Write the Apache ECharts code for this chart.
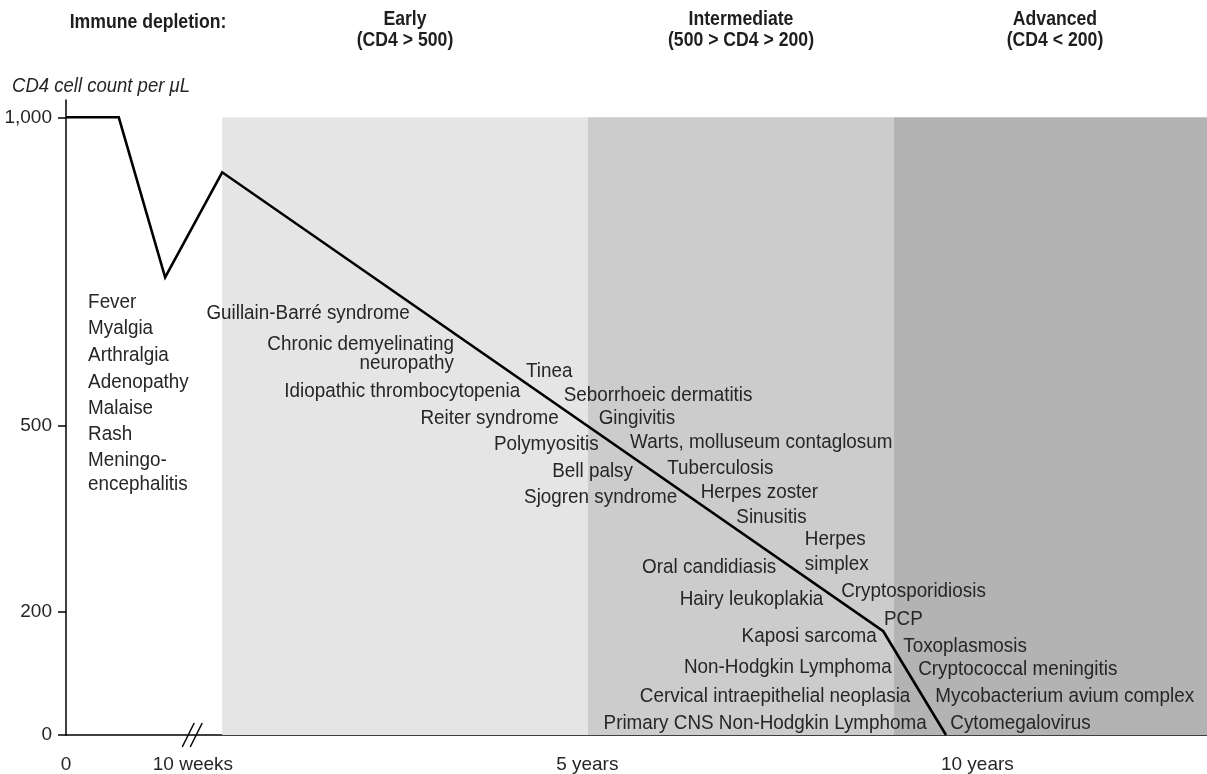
<!DOCTYPE html>
<html>
<head>
<meta charset="utf-8">
<script src="https://cdn.jsdelivr.net/npm/echarts@6/dist/echarts.min.js"></script>
<style>
html,body{margin:0;padding:0;background:#fff;}
#chart{width:1207px;height:774px;}
</style>
</head>
<body>
<div id="chart"></div>
<script>
// ---- data (x in chart units: 0 = start, break near 1.78, years afterwards) ----
const cd4X = [0, 0.74, 1.39, 2.19, 11.46, 12.34];
const cd4Y = [1000, 1000, 741, 911, 168, 0];

const stageNames = ['Early', 'Intermediate', 'Advanced'];
const stageStart = [2.19, 7.32, 11.61];
const stageEnd = [7.32, 11.61, 16];
const stageTop = 1000;

const xTickValues = [0, 1.78, 7.31, 12.78];
const xTickLabels = ['0', '10 weeks', '5 years', '10 years'];
const yTickValues = [0, 200, 500, 1000];
const yTickLabels = ['0', '200', '500', '1,000'];

const breakAt = 1.77;

// conditions left of the curve (text ends at point)
const leftNames = ['Guillain-Barré syndrome', 'Chronic demyelinating', 'neuropathy', 'Idiopathic thrombocytopenia',
  'Reiter syndrome', 'Polymyositis', 'Bell palsy', 'Sjogren syndrome', 'Oral candidiasis', 'Hairy leukoplakia',
  'Kaposi sarcoma', 'Non-Hodgkin Lymphoma', 'Cervical intraepithelial neoplasia', 'Primary CNS Non-Hodgkin Lymphoma'];
const leftX = [4.82, 5.44, 5.44, 6.37, 6.91, 7.47, 7.95, 8.57, 9.96, 10.62, 11.37, 11.58, 11.84, 12.07];
const leftY = [683, 633, 601, 557, 513, 471, 427, 384, 272, 219, 159, 110, 63, 19];

// conditions right of the curve (text starts at point)
const rightNames = ['Tinea', 'Seborrhoeic dermatitis', 'Gingivitis', 'Warts, molluseum contaglosum', 'Tuberculosis',
  'Herpes zoster', 'Sinusitis', 'Herpes', 'simplex', 'Cryptosporidiosis', 'PCP', 'Toxoplasmosis',
  'Cryptococcal meningitis', 'Mycobacterium avium complex', 'Cytomegalovirus'];
const rightX = [6.45, 6.98, 7.47, 7.91, 8.43, 8.90, 9.40, 10.36, 10.36, 10.87, 11.47, 11.74, 11.95, 12.19, 12.40];
const rightY = [588, 550, 512, 473, 431, 393, 353, 316, 277, 233, 188, 144, 107, 62, 19];

// acute infection symptoms
const acuteNames = ['Fever', 'Myalgia', 'Arthralgia', 'Adenopathy', 'Malaise', 'Rash', 'Meningo-', 'encephalitis'];
const acuteX = [0.31, 0.31, 0.31, 0.31, 0.31, 0.31, 0.31, 0.31];
const acuteY = [701, 659, 615, 571, 529, 487, 444, 405];

const headerTitle = 'Immune depletion:';
const headerStages = ['Early\n(CD4 > 500)', 'Intermediate\n(500 > CD4 > 200)', 'Advanced\n(CD4 < 200)'];
const yName = 'CD4 cell count per \u03bcL';

// ---- chart ----
const FONT = '"Liberation Sans", Arial, sans-serif';
const TXT = '#262626';
const bandColors = ['#e5e5e5', '#cccccc', '#b3b3b3'];

const chart = echarts.init(document.getElementById('chart'), null, {renderer: 'canvas'});

function lookup(vals, labels, v) {
  let best = 0;
  vals.forEach((t, i) => { if (Math.abs(t - v) < Math.abs(vals[best] - v)) best = i; });
  return labels[best];
}

// annotation table built from the arrays above
const notes = [];
leftNames.forEach((n, i) => notes.push([leftX[i], leftY[i], n, 'right']));
rightNames.forEach((n, i) => notes.push([rightX[i], rightY[i], n, 'left']));
acuteNames.forEach((n, i) => notes.push([acuteX[i], acuteY[i], n, 'left']));

const NOTE_FONT = '20.5px ' + FONT;
const NOTE_SCALE = 0.92;

function headerText(text, x, y) {
  return {type: 'text', x: x, y: y, scaleX: 0.86, silent: true,
    style: {text: text, font: 'bold 20.5px ' + FONT, fill: '#1e1e1e', align: 'center',
      verticalAlign: 'middle', lineHeight: 21.5}};
}

const option = {
  animation: false,
  grid: {left: 66, right: 0, top: 100, bottom: 39},
  xAxis: {
    type: 'value', min: 0, max: 16,
    splitLine: {show: false},
    axisLine: {show: true, lineStyle: {color: '#000', width: 1.5}},
    axisTick: {show: false},
    axisLabel: {
      customValues: xTickValues,
      formatter: v => lookup(xTickValues, xTickLabels, v),
      fontFamily: FONT, fontSize: 19, color: TXT, margin: 20
    }
  },
  yAxis: {
    type: 'value', min: 0, max: 1028,
    splitLine: {show: false},
    axisLine: {show: true, lineStyle: {color: '#000', width: 1.5}},
    axisTick: {show: true, length: 8, customValues: yTickValues, lineStyle: {color: '#000', width: 1.5}},
    axisLabel: {
      customValues: yTickValues,
      formatter: v => lookup(yTickValues, yTickLabels, v),
      fontFamily: FONT, fontSize: 19, color: TXT, margin: 14
    }
  },
  series: [
    {
      type: 'line', silent: true, data: [], z: 1,
      markArea: {
        silent: true,
        data: stageNames.map((n, i) => [
          {xAxis: stageStart[i], yAxis: 0, itemStyle: {color: bandColors[i]}},
          {xAxis: stageEnd[i], yAxis: stageTop}
        ])
      }
    },
    {
      type: 'line', z: 5, symbol: 'none', silent: true,
      data: cd4X.map((x, i) => [x, cd4Y[i]]),
      lineStyle: {color: '#000', width: 2.6, join: 'miter'}
    },
    {
      type: 'custom', z: 6, silent: true,
      data: [[breakAt, 0]],
      renderItem: (params, api) => {
        const c = api.coord([api.value(0), api.value(1)]);
        const mk = dx => ({type: 'line', shape: {x1: c[0] + dx - 6, y1: c[1] + 12, x2: c[0] + dx + 6, y2: c[1] - 12},
          style: {stroke: '#000', lineWidth: 1.5}});
        return {type: 'group', children: [mk(-4), mk(4)]};
      }
    },
    {
      type: 'custom', z: 7, silent: true,
      data: notes.map(d => [d[0], d[1]]),
      renderItem: (params, api) => {
        const c = api.coord([api.value(0), api.value(1)]);
        const d = notes[params.dataIndex];
        return {type: 'text', x: c[0], y: c[1], scaleX: NOTE_SCALE,
          style: {text: d[2], font: NOTE_FONT, fill: TXT, align: d[3], verticalAlign: 'middle'}};
      }
    }
  ],
  graphic: [
    headerText(headerTitle, 148, 22),
    headerText(headerStages[0], 405, 30),
    headerText(headerStages[1], 741, 30),
    headerText(headerStages[2], 1055, 30),
    {type: 'text', x: 12, y: 87, silent: true, scaleX: 0.95, style: {text: yName, font: 'italic 19.5px ' + FONT, fill: TXT,
      align: 'left', verticalAlign: 'middle'}}
  ]
};
chart.setOption(option);
</script>
</body>
</html>
